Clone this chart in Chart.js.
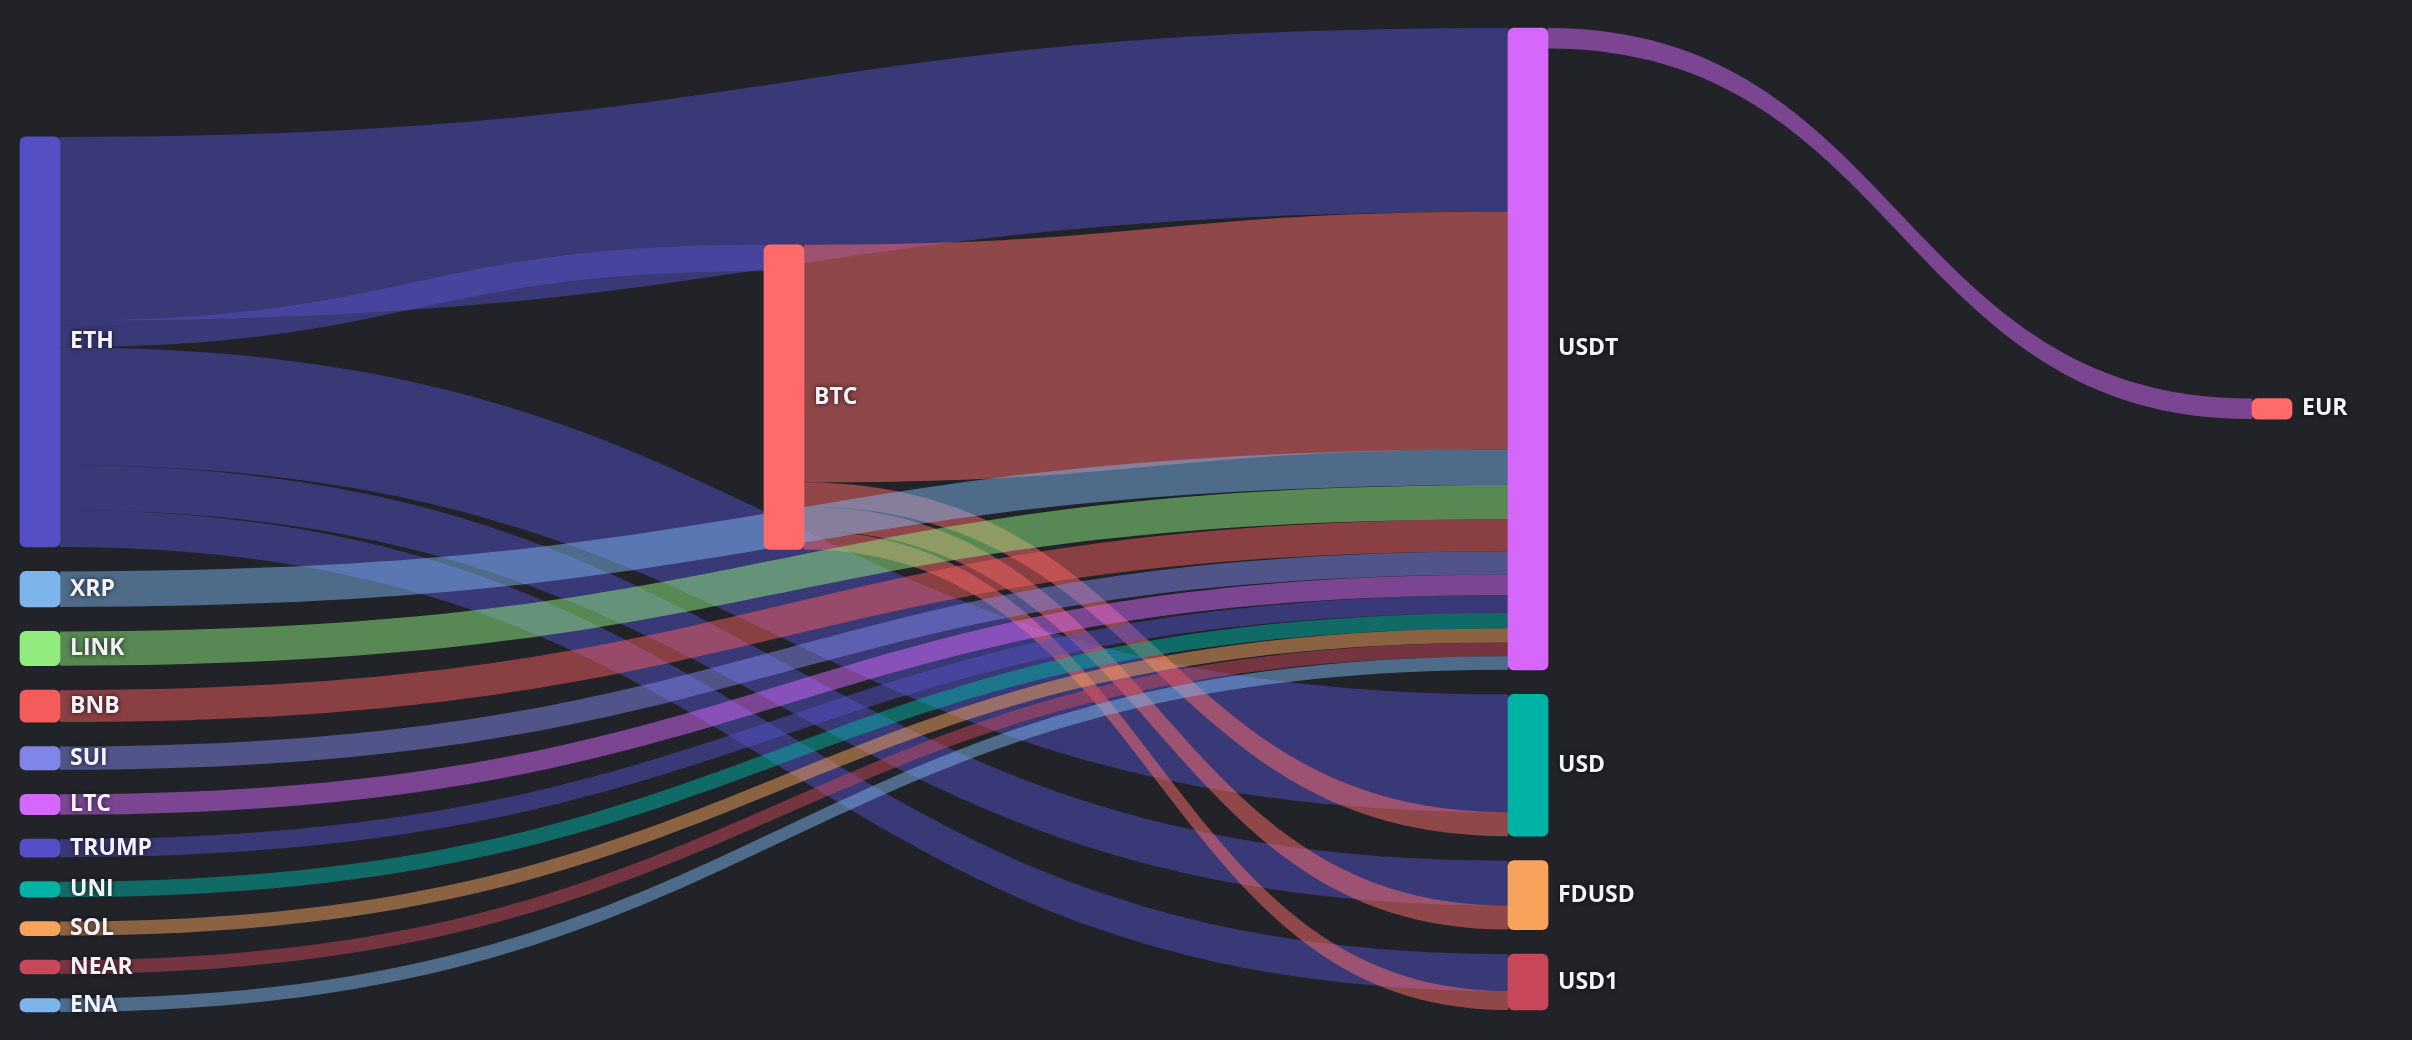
<!DOCTYPE html>
<html>
<head>
<meta charset="utf-8">
<style>
  html, body { margin: 0; padding: 0; background: #212328; }
  #wrap { width: 2412px; height: 1040px; position: relative; }
</style>
<script src="https://cdn.jsdelivr.net/npm/chart.js@4.4.1/dist/chart.umd.min.js"></script>
</head>
<body>
<div id="wrap"><canvas id="sankey"></canvas></div>
<script>
// nodes, in the order they stack inside their column
const nodeNames = ['ETH', 'XRP', 'LINK', 'BNB', 'SUI', 'LTC', 'TRUMP', 'UNI', 'SOL', 'NEAR', 'ENA',
    'BTC', 'USDT', 'USD', 'FDUSD', 'USD1', 'EUR'];
const nodeColors = ['#544fc5', '#7cb5ec', '#90ed7d', '#f45b5b', '#8085e9', '#d568fb', '#544fc5', '#00b3a4',
    '#f7a35c', '#c8475a', '#7cb5ec', '#ff6b6b', '#d568fb', '#00b3a4', '#f7a35c', '#c8475a', '#ff6b6b'];

// flows
const flowFrom = ['ETH', 'ETH', 'ETH', 'ETH', 'ETH',
    'BTC', 'BTC', 'BTC', 'BTC',
    'XRP', 'LINK', 'BNB', 'SUI', 'LTC', 'TRUMP', 'UNI', 'SOL', 'NEAR', 'ENA',
    'USDT'];
const flowTo = ['USDT', 'BTC', 'USD', 'FDUSD', 'USD1',
    'USDT', 'USD', 'FDUSD', 'USD1',
    'USDT', 'USDT', 'USDT', 'USDT', 'USDT', 'USDT', 'USDT', 'USDT', 'USDT', 'USDT',
    'EUR'];
const flowValues = [184, 26.5, 118, 45, 37,
    238, 24, 24, 19,
    35.5, 34.3, 32, 23.3, 20.4, 18, 15.5, 14, 14, 13.5,
    20.5];

// layout settings (value units)
const nodePadding = 24.5;
const columnTop = [109, 217, 0, 371];

const nodes = nodeNames.map((name, i) => ({
    name: name, color: nodeColors[i], inSum: 0, outSum: 0, ins: [], outs: [], col: 0
}));
const byName = {};
nodes.forEach(n => { byName[n.name] = n; });

const links = flowFrom.map((f, i) => ({
    source: byName[f], target: byName[flowTo[i]], value: flowValues[i]
}));
links.forEach(l => {
    l.source.outSum += l.value;
    l.target.inSum += l.value;
    l.source.outs.push(l);
    l.target.ins.push(l);
});

// column = longest path from a source node
let changed = true;
while (changed) {
    changed = false;
    links.forEach(l => {
        if (l.target.col < l.source.col + 1) {
            l.target.col = l.source.col + 1;
            changed = true;
        }
    });
}
const maxCol = Math.max(...nodes.map(n => n.col));

let maxY = 0;
for (let c = 0; c <= maxCol; c++) {
    let y = columnTop[c];
    nodes.filter(n => n.col === c).forEach(n => {
        n.size = Math.max(n.inSum, n.outSum);
        n.y0 = y;
        n.y1 = y + n.size;
        y = n.y1 + nodePadding;
    });
    maxY = Math.max(maxY, y - nodePadding);
}

// where each flow leaves / enters its nodes
nodes.forEach(n => {
    n.outs.sort((a, b) => a.target.y0 - b.target.y0);
    let y = n.y0;
    n.outs.forEach(l => { l.sy = y; y += l.value; });
    n.ins.sort((a, b) => a.source.y0 - b.source.y0);
    y = n.y0;
    n.ins.forEach(l => { l.ty = y; y += l.value; });
});

function withAlpha(hex, a) {
    const v = parseInt(hex.slice(1), 16);
    return 'rgba(' + (v >> 16 & 255) + ',' + (v >> 8 & 255) + ',' + (v & 255) + ',' + a + ')';
}

const flowPlugin = {
    id: 'flows',
    beforeDatasetsDraw(chart) {
        const ctx = chart.ctx;
        const xs = chart.scales.x, ys = chart.scales.y;
        const half = chart.getDatasetMeta(0).data[0].width / 2;
        ctx.save();
        links.forEach(l => {
            const sx = xs.getPixelForValue(l.source.col) + half;
            const tx = xs.getPixelForValue(l.target.col) - half;
            const sy0 = ys.getPixelForValue(l.sy), sy1 = ys.getPixelForValue(l.sy + l.value);
            const ty0 = ys.getPixelForValue(l.ty), ty1 = ys.getPixelForValue(l.ty + l.value);
            const mx = (sx + tx) / 2;
            ctx.beginPath();
            ctx.moveTo(sx, sy0);
            ctx.bezierCurveTo(mx, sy0, mx, ty0, tx, ty0);
            ctx.lineTo(tx, ty1);
            ctx.bezierCurveTo(mx, ty1, mx, sy1, sx, sy1);
            ctx.closePath();
            ctx.fillStyle = withAlpha(l.source.color, 0.5);
            ctx.fill();
        });
        ctx.restore();
    }
};

const labelPlugin = {
    id: 'nodeLabels',
    afterDatasetsDraw(chart) {
        const ctx = chart.ctx;
        const ys = chart.scales.y;
        const meta = chart.getDatasetMeta(0);
        ctx.save();
        ctx.font = 'bold 23px "Open Sans", "Noto Sans", sans-serif';
        ctx.textBaseline = 'middle';
        ctx.textAlign = 'left';
        ctx.fillStyle = '#f2f2f8';
        ctx.shadowColor = 'rgba(0,0,0,0.8)';
        ctx.shadowBlur = 5;
        nodes.forEach((n, i) => {
            const el = meta.data[i];
            ctx.fillText(n.name, el.x + el.width / 2 + 10, ys.getPixelForValue((n.y0 + n.y1) / 2));
        });
        ctx.restore();
    }
};

new Chart(document.getElementById('sankey'), {
    type: 'bar',
    data: {
        datasets: [{
            data: nodes.map(n => ({ x: n.col, y: [n.y0, n.y1] })),
            backgroundColor: nodes.map(n => n.color),
            barThickness: 40,
            borderRadius: 6,
            borderSkipped: false,
            clip: false
        }]
    },
    options: {
        responsive: true,
        maintainAspectRatio: false,
        animation: false,
        layout: { padding: { left: 40, right: 140, top: 28, bottom: 28 } },
        scales: {
            x: { type: 'linear', min: 0, max: maxCol, offset: false, display: false },
            y: { type: 'linear', min: 0, max: maxY, reverse: true, display: false }
        },
        plugins: {
            legend: { display: false },
            tooltip: { enabled: false }
        }
    },
    plugins: [flowPlugin, labelPlugin]
});
</script>
</body>
</html>
